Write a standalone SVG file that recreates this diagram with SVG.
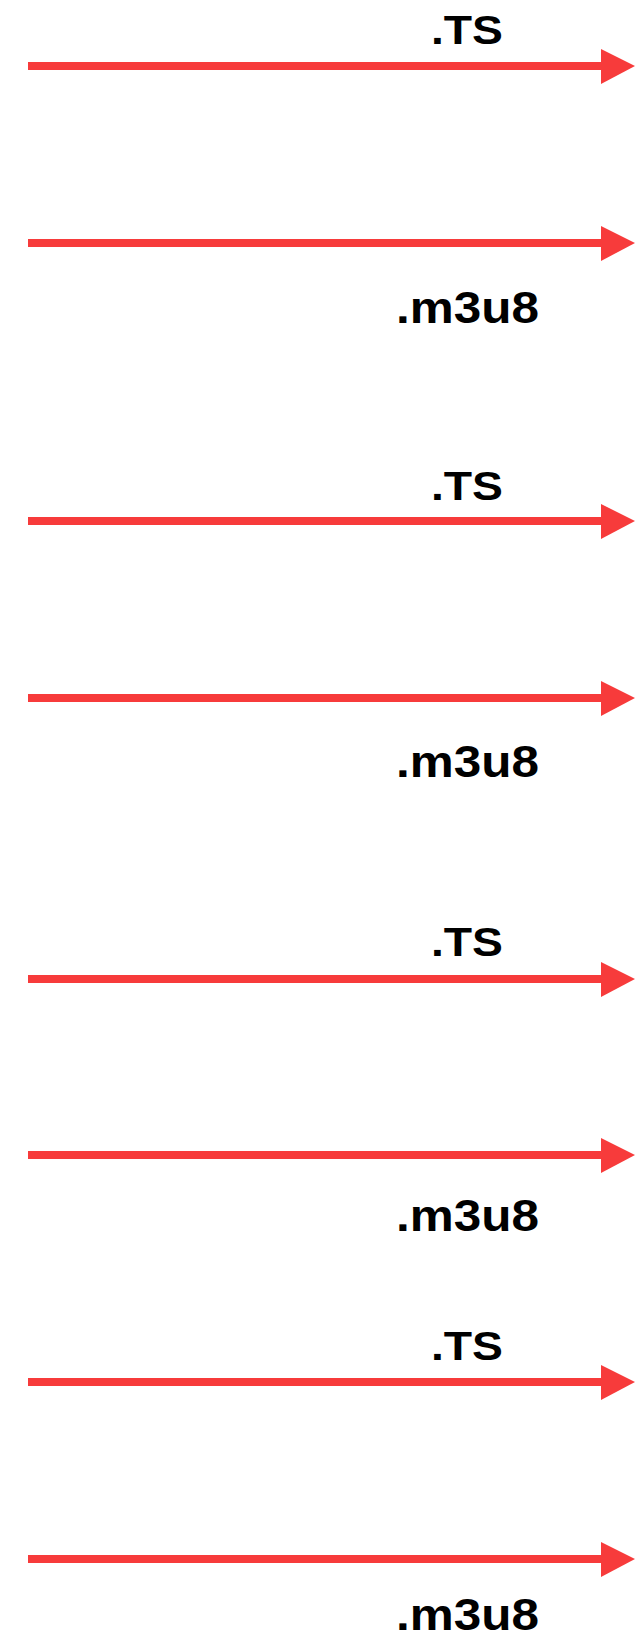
<svg xmlns="http://www.w3.org/2000/svg" width="636" height="1648" viewBox="0 0 636 1648">
<style>
.ln{stroke:#f73b3b;stroke-width:8;fill:none}
.hd{fill:#f73b3b}
.lb{font-family:"Liberation Sans",Arial,sans-serif;font-weight:bold;fill:#000}
.ts{font-size:40px}
.m3{font-size:44px}
</style>
<rect width="636" height="1648" fill="#fff"/>
<g id="connectors">
<g id="a1"><line class="ln" x1="28" y1="66" x2="603" y2="66"/><polygon class="hd" points="601,49 635,66 601,84"/></g>
<g id="a2"><line class="ln" x1="28" y1="243" x2="603" y2="243"/><polygon class="hd" points="601,226 635,243 601,261"/></g>
<g id="a3"><line class="ln" x1="28" y1="521" x2="603" y2="521"/><polygon class="hd" points="601,504 635,521 601,539"/></g>
<g id="a4"><line class="ln" x1="28" y1="698" x2="603" y2="698"/><polygon class="hd" points="601,681 635,698 601,716"/></g>
<g id="a5"><line class="ln" x1="28" y1="979" x2="603" y2="979"/><polygon class="hd" points="601,962 635,979 601,997"/></g>
<g id="a6"><line class="ln" x1="28" y1="1155" x2="603" y2="1155"/><polygon class="hd" points="601,1138 635,1155 601,1173"/></g>
<g id="a7"><line class="ln" x1="28" y1="1382" x2="603" y2="1382"/><polygon class="hd" points="601,1365 635,1382 601,1400"/></g>
<g id="a8"><line class="ln" x1="28" y1="1559" x2="603" y2="1559"/><polygon class="hd" points="601,1542 635,1559 601,1577"/></g>
</g>
<g id="labels">
<g id="t1"><text class="lb ts" x="431" y="44" textLength="72" lengthAdjust="spacingAndGlyphs">.TS</text></g>
<g id="m1"><text class="lb m3" x="396" y="323" textLength="143" lengthAdjust="spacingAndGlyphs">.m3u8</text></g>
<g id="t2"><text class="lb ts" x="431" y="500" textLength="72" lengthAdjust="spacingAndGlyphs">.TS</text></g>
<g id="m2"><text class="lb m3" x="396" y="777" textLength="143" lengthAdjust="spacingAndGlyphs">.m3u8</text></g>
<g id="t3"><text class="lb ts" x="431" y="956" textLength="72" lengthAdjust="spacingAndGlyphs">.TS</text></g>
<g id="m3"><text class="lb m3" x="396" y="1231" textLength="143" lengthAdjust="spacingAndGlyphs">.m3u8</text></g>
<g id="t4"><text class="lb ts" x="431" y="1360" textLength="72" lengthAdjust="spacingAndGlyphs">.TS</text></g>
<g id="m4"><text class="lb m3" x="396" y="1630" textLength="143" lengthAdjust="spacingAndGlyphs">.m3u8</text></g>
</g>
</svg>
